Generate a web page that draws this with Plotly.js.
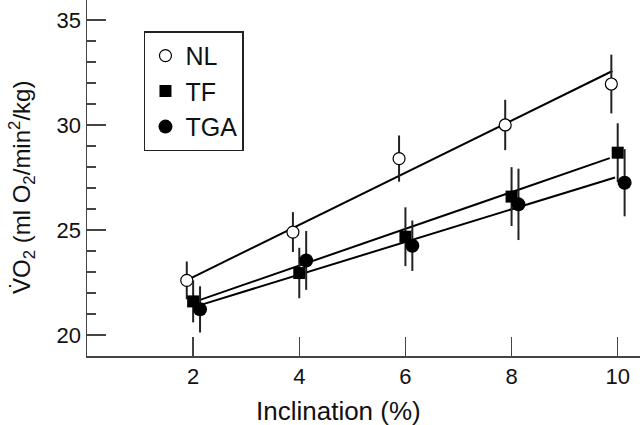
<!DOCTYPE html>
<html>
<head>
<meta charset="utf-8">
<script src="https://cdn.plot.ly/plotly-3.0.1.min.js"></script>
<style>html,body{margin:0;padding:0;background:#fff;}#chart{width:640px;height:425px;}</style>
</head>
<body>
<div id="chart"></div>
<script>
// Data
var inclination = [2, 4, 6, 8, 10];
var nlVals  = [22.6, 24.9, 28.4, 30.0, 31.95];
var nlErr   = [0.9, 0.95, 1.1, 1.2, 1.4];
var tfVals  = [21.6, 22.95, 24.68, 26.59, 28.68];
var tfErr   = [1.0, 1.2, 1.4, 1.4, 1.4];
var tgaVals = [21.22, 23.55, 24.25, 26.22, 27.25];
var tgaErr  = [1.1, 1.4, 1.2, 1.7, 1.6];
// regression line endpoints
var nlFitX  = [1.95, 9.9];  var nlFitY  = [22.7, 32.57];
var tfFitX  = [2.05, 9.85]; var tfFitY  = [21.6, 28.42];
var tgaFitX = [2.1, 9.95];  var tgaFitY = [21.4, 27.5];
var seriesNames = ['NL', 'TF', 'TGA'];
var xTitle = 'Inclination (%)';
var yTitle = 'V\u0307O<sub>2</sub> (ml O<sub>2</sub>/min<sup>2</sup>/kg)';

// small horizontal jitter used in the figure (style only)
var jitter = [-0.12, 0, 0.13];
function shift(arr, d){ return arr.map(function(v){ return v + d; }); }

var FONT = 'Liberation Sans, Arial, Helvetica, sans-serif';

var traces = [
  {x: nlFitX, y: nlFitY, mode: 'lines', line: {color: '#000', width: 2}, showlegend: false, hoverinfo: 'skip'},
  {x: tfFitX, y: tfFitY, mode: 'lines', line: {color: '#000', width: 2}, showlegend: false, hoverinfo: 'skip'},
  {x: tgaFitX, y: tgaFitY, mode: 'lines', line: {color: '#000', width: 2}, showlegend: false, hoverinfo: 'skip'},
  {x: shift(inclination, jitter[0]), y: nlVals, name: seriesNames[0], mode: 'markers', type: 'scatter',
   marker: {symbol: 'circle', size: 12, color: '#fff', line: {color: '#000', width: 1.2}},
   error_y: {type: 'data', array: nlErr, visible: true, color: '#222', thickness: 2, width: 0}},
  {x: shift(inclination, jitter[1]), y: tfVals, name: seriesNames[1], mode: 'markers', type: 'scatter',
   marker: {symbol: 'square', size: 12, color: '#000'},
   error_y: {type: 'data', array: tfErr, visible: true, color: '#222', thickness: 2, width: 0}},
  {x: shift(inclination, jitter[2]), y: tgaVals, name: seriesNames[2], mode: 'markers', type: 'scatter',
   marker: {symbol: 'circle', size: 14, color: '#000'},
   error_y: {type: 'data', array: tgaErr, visible: true, color: '#222', thickness: 2, width: 0}}
];

var layout = {
  width: 640, height: 425,
  margin: {l: 87, r: 0, t: 0, b: 69, pad: 0},
  paper_bgcolor: '#fff', plot_bgcolor: '#fff',
  font: {family: FONT, color: '#111', size: 22},
  showlegend: true,
  legend: {x: 0.103, y: 0.912, xanchor: 'left', yanchor: 'top',
           bordercolor: '#222', borderwidth: 1.5, bgcolor: '#fff',
           font: {family: FONT, size: 25, color: '#111'}, tracegroupgap: 0},
  xaxis: {
    range: [0, 10.42], tickvals: inclination, ticktext: inclination.map(String),
    showgrid: false, zeroline: false, showline: true, linecolor: '#444', linewidth: 1.5,
    ticks: 'inside', ticklen: 19, tickwidth: 1.3, tickcolor: '#444',
    tickfont: {family: FONT, size: 22, color: '#111'}
  },
  yaxis: {
    range: [19, 35.95], tickvals: [20, 25, 30, 35],
    showgrid: false, zeroline: false, showline: true, linecolor: '#444', linewidth: 1.5,
    ticks: 'inside', ticklen: 19, tickwidth: 1.3, tickcolor: '#444',
    minor: {dtick: 1, ticks: 'inside', ticklen: 9, tickwidth: 1.3, tickcolor: '#444', showgrid: false},
    tickfont: {family: FONT, size: 22, color: '#111'}
  },
  annotations: [
    {text: xTitle, xref: 'paper', yref: 'paper', x: 0.454, y: -0.1545,
     xanchor: 'center', yanchor: 'middle', showarrow: false,
     font: {family: FONT, size: 26, color: '#111'}},
    {text: yTitle, xref: 'paper', yref: 'paper', x: -0.1175, y: 0.472, textangle: -90,
     xanchor: 'center', yanchor: 'middle', showarrow: false,
     font: {family: FONT, size: 24, color: '#111'}}
  ]
};

Plotly.newPlot('chart', traces, layout, {displayModeBar: false, staticPlot: true});
</script>
</body>
</html>
